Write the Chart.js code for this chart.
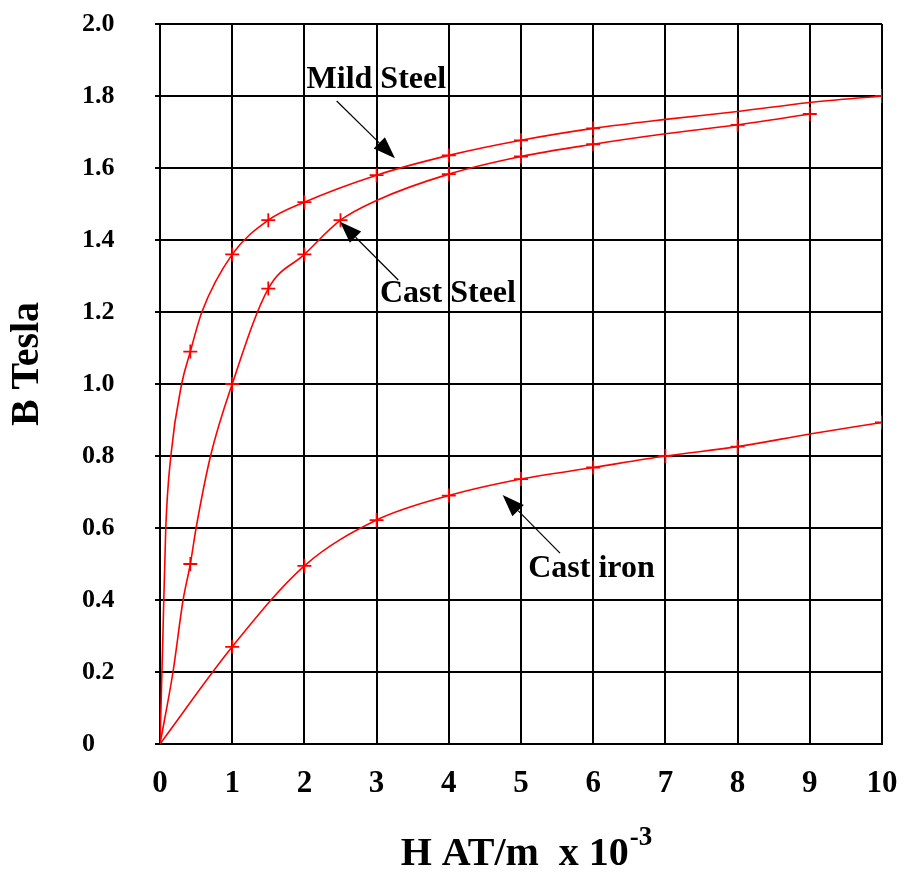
<!DOCTYPE html>
<html>
<head>
<meta charset="utf-8">
<script src="https://cdn.jsdelivr.net/npm/chart.js@4.4.0/dist/chart.umd.min.js"></script>
<style>
  html, body { margin: 0; padding: 0; background: #fff; }
</style>
</head>
<body>
<canvas id="curvaBH" width="904" height="875"></canvas>
<script>
// eixos
const xTickLabels = ['0', '1', '2', '3', '4', '5', '6', '7', '8', '9', '10'];
const yTickLabels = ['0', '0.2', '0.4', '0.6', '0.8', '1.0', '1.2', '1.4', '1.6', '1.8', '2.0'];
const xTitulo = 'H AT/m  x 10';
const xTituloExpoente = '-3';
const yTitulo = 'B Tesla';

// Mild Steel (H em AT/m x 10^-3, B em Tesla)
const mildH = [0, 0.04, 0.08, 0.15, 0.3, 0.42, 0.58, 1, 1.5, 2, 3, 4, 5, 6, 7, 8, 9, 10];
const mildB = [0, 0.3, 0.6, 0.8, 1.0, 1.09, 1.2, 1.36, 1.455, 1.505, 1.58, 1.635, 1.677, 1.71, 1.735, 1.757, 1.782, 1.80];
const mildMarca = [0, 0, 0, 0, 0, 1, 0, 1, 1, 1, 1, 1, 1, 1, 0, 0, 0, 1];

// Cast Steel
const castSteelH = [0, 0.18, 0.32, 0.42, 0.5, 0.7, 1, 1.5, 2, 2.5, 3, 4, 5, 6, 7, 8, 9];
const castSteelB = [0, 0.2, 0.4, 0.5, 0.6, 0.8, 1.0, 1.265, 1.36, 1.455, 1.51, 1.583, 1.632, 1.666, 1.695, 1.72, 1.75];
const castSteelMarca = [0, 0, 0, 1, 0, 0, 1, 1, 1, 1, 0, 1, 1, 1, 0, 1, 1];

// Cast iron
const castIronH = [0, 1, 2, 3, 4, 5, 6, 7, 8, 9, 10];
const castIronB = [0, 0.27, 0.495, 0.622, 0.69, 0.736, 0.768, 0.8, 0.826, 0.861, 0.893];
const castIronMarca = [0, 1, 1, 1, 1, 1, 1, 1, 1, 0, 1];

// rotulos com seta (em coordenadas do grafico)
const rotulos = [
  { texto: 'Mild Steel', x: 2.03, y: 1.821, de: [2.447, 1.786], para: [3.255, 1.627] },
  { texto: 'Cast Steel', x: 3.047, y: 1.227, de: [3.30, 1.289], para: [2.493, 1.451] },
  { texto: 'Cast iron', x: 5.10, y: 0.465, de: [5.54, 0.530], para: [4.746, 0.692] }
];

const fonte = "'Liberation Serif', 'Times New Roman', serif";

function montaPontos(hs, bs) {
  return hs.map((h, i) => ({ x: h, y: bs[i] }));
}

function montaSerie(nome, hs, bs, marcas) {
  return {
    label: nome,
    data: montaPontos(hs, bs),
    borderColor: '#ff0000',
    borderWidth: 1.6,
    cubicInterpolationMode: 'monotone',
    pointStyle: 'cross',
    pointRadius: marcas.map(m => m ? 7 : 0),
    pointBorderColor: '#ff0000',
    pointBorderWidth: 1.8,
    fill: false
  };
}

function desenhaSeta(ctx, x1, y1, x2, y2) {
  const ang = Math.atan2(y2 - y1, x2 - x1);
  const comp = 22;
  const meia = 8;
  const cx = x2 - comp * Math.cos(ang);
  const cy = y2 - comp * Math.sin(ang);
  ctx.beginPath();
  ctx.moveTo(x1, y1);
  ctx.lineTo(cx, cy);
  ctx.stroke();
  ctx.beginPath();
  ctx.moveTo(x2, y2);
  ctx.lineTo(cx + meia * Math.sin(ang), cy - meia * Math.cos(ang));
  ctx.lineTo(cx - meia * Math.sin(ang), cy + meia * Math.cos(ang));
  ctx.closePath();
  ctx.fill();
}

const pluginRotulos = {
  id: 'rotulos',
  afterDatasetsDraw(chart) {
    const { ctx, scales } = chart;
    ctx.save();
    ctx.fillStyle = '#000';
    ctx.strokeStyle = '#000';
    ctx.lineWidth = 1.2;
    ctx.font = 'bold 32px ' + fonte;
    ctx.textAlign = 'left';
    ctx.textBaseline = 'alphabetic';
    rotulos.forEach(r => {
      ctx.fillText(r.texto, scales.x.getPixelForValue(r.x), scales.y.getPixelForValue(r.y));
      desenhaSeta(ctx,
        scales.x.getPixelForValue(r.de[0]), scales.y.getPixelForValue(r.de[1]),
        scales.x.getPixelForValue(r.para[0]), scales.y.getPixelForValue(r.para[1]));
    });
    ctx.restore();
  },
  afterDraw(chart) {
    // titulo do eixo x com expoente
    const { ctx, chartArea } = chart;
    ctx.save();
    ctx.fillStyle = '#000';
    ctx.textBaseline = 'alphabetic';
    ctx.textAlign = 'left';
    ctx.font = 'bold 40px ' + fonte;
    const w1 = ctx.measureText(xTitulo).width;
    ctx.font = 'bold 27px ' + fonte;
    const w2 = ctx.measureText(xTituloExpoente).width;
    const x0 = (chartArea.left + chartArea.right) / 2 + 5 - (w1 + w2) / 2;
    const base = chart.height - 10;
    ctx.font = 'bold 40px ' + fonte;
    ctx.fillText(xTitulo, x0, base);
    ctx.font = 'bold 27px ' + fonte;
    ctx.fillText(xTituloExpoente, x0 + w1 + 1, base - 20);
    ctx.restore();
  }
};

const grafico = new Chart(document.getElementById('curvaBH'), {
  type: 'line',
  data: {
    datasets: [
      montaSerie('Mild Steel', mildH, mildB, mildMarca),
      montaSerie('Cast Steel', castSteelH, castSteelB, castSteelMarca),
      montaSerie('Cast iron', castIronH, castIronB, castIronMarca)
    ]
  },
  options: {
    responsive: false,
    animation: false,
    devicePixelRatio: 1,
    layout: {
      autoPadding: false,
      padding: { left: 82, top: 24, right: 22, bottom: 0 }
    },
    plugins: {
      legend: { display: false },
      tooltip: { enabled: false }
    },
    scales: {
      x: {
        type: 'linear',
        min: 0,
        max: 10,
        afterFit(scale) {
          scale.height = 131;
          scale.paddingLeft = 0;
          scale.paddingRight = 0;
        },
        grid: { color: '#000', lineWidth: 2, drawTicks: false },
        border: { color: '#000', width: 2 },
        ticks: {
          stepSize: 1,
          padding: 21,
          color: '#000',
          maxRotation: 0,
          font: { family: fonte, size: 31, weight: 'bold' },
          callback: (v, i) => xTickLabels[i]
        },
        title: { display: false }
      },
      y: {
        min: 0,
        max: 2,
        afterFit(scale) {
          scale.width = 78;
          scale.paddingTop = 0;
          scale.paddingBottom = 0;
        },
        grid: { color: '#000', lineWidth: 2, tickLength: 5 },
        border: { color: '#000', width: 2 },
        ticks: {
          stepSize: 0.2,
          crossAlign: 'far',
          color: '#000',
          font: { family: fonte, size: 26, weight: 'bold' },
          callback: (v, i) => yTickLabels[i]
        },
        title: {
          display: true,
          text: '    ' + yTitulo,
          color: '#000',
          padding: { top: -78, bottom: 0 },
          font: { family: fonte, size: 40, weight: 'bold' }
        }
      }
    }
  },
  plugins: [pluginRotulos]
});
</script>
</body>
</html>
